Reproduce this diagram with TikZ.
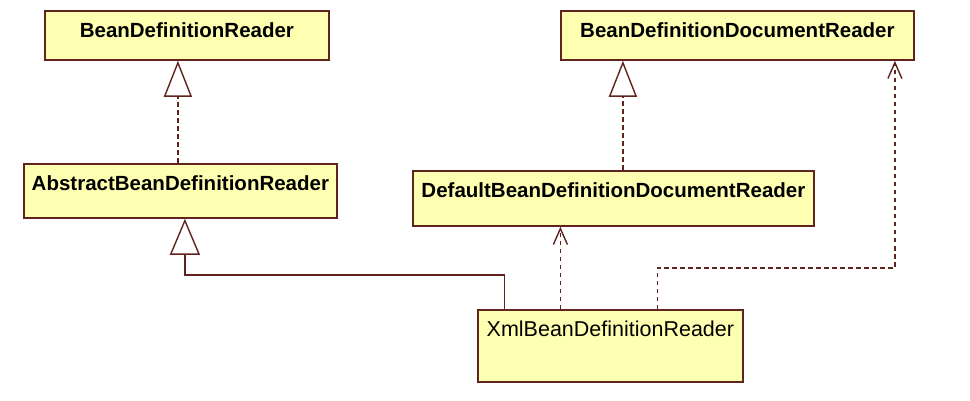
\documentclass[tikz,border=0pt]{standalone}
\usepackage{fontspec}
\setmainfont{Liberation Sans}
\usepackage{tikz}
\usetikzlibrary{arrows.meta,positioning}
\definecolor{umlfill}{RGB}{255,255,178}
\definecolor{umlline}{RGB}{95,36,28}
\tikzstyle{cls} = [draw=umlline, line width=1.8pt, fill=umlfill, anchor=north west,
    inner sep=0pt, text height=26.3pt, font=\fontsize{20.5}{24}\selectfont\bfseries]
\tikzstyle{realize} = [umlline, line width=1.6pt, dash pattern=on 4.5pt off 3.5pt,
    -{Triangle[open,length=36pt,width=28pt,line width=1.4pt]}]
\tikzstyle{extend} = [umlline, line width=1.6pt,
    -{Triangle[open,length=36pt,width=30pt,line width=1.4pt]}]
\tikzstyle{depend} = [umlline, line width=1.6pt, dash pattern=on 4.5pt off 3.5pt,
    -{Straight Barb[length=16pt,width=14pt,line width=1.4pt]}]

\begin{document}
\begin{tikzpicture}[x=1pt, y=-1pt]
  \useasboundingbox[fill=white] (0,0) rectangle (970,401);
  \node [cls, minimum width=284pt, text depth=22.7pt] (bdr) at (44,10) {BeanDefinitionReader};
  \node [cls, minimum width=353pt, text depth=22.7pt] (bddr) at (560,10) {BeanDefinitionDocumentReader};
  \node [cls, minimum width=313pt, text depth=27.7pt] (abr) at (23,163) {AbstractBeanDefinitionReader};
  \node [cls, minimum width=401pt, text depth=28.7pt] (dbddr) at (412,170) {DefaultBeanDefinitionDocumentReader};
  \node [cls, minimum width=265pt, text depth=45.7pt,
    font=\fontsize{21.5}{24}\selectfont] (xbdr) at (477,309) {XmlBeanDefinitionReader};
  % implements
  \draw [realize] ([xshift=-2.5pt]abr.north) -- ([xshift=-2.5pt]abr.north |- bdr.south);
  \draw [realize] ([xshift=9.5pt]dbddr.north) -- ([xshift=9.5pt]dbddr.north |- bddr.south);
  % extends
  \coordinate (ext) at ([xshift=-106pt,yshift=34pt]xbdr.north);
  \draw [extend] ([xshift=-106pt]xbdr.north) -- (ext) -| ([xshift=4.5pt]abr.south);
  % uses
  \draw [depend] ([xshift=-50pt]xbdr.north) -- ([xshift=-50pt]xbdr.north |- dbddr.south);
  \coordinate (use) at ([xshift=47pt,yshift=41pt]xbdr.north);
  \draw [depend] ([xshift=47pt]xbdr.north) -- (use) -| ([xshift=157.5pt]bddr.south);
\end{tikzpicture}
\end{document}
